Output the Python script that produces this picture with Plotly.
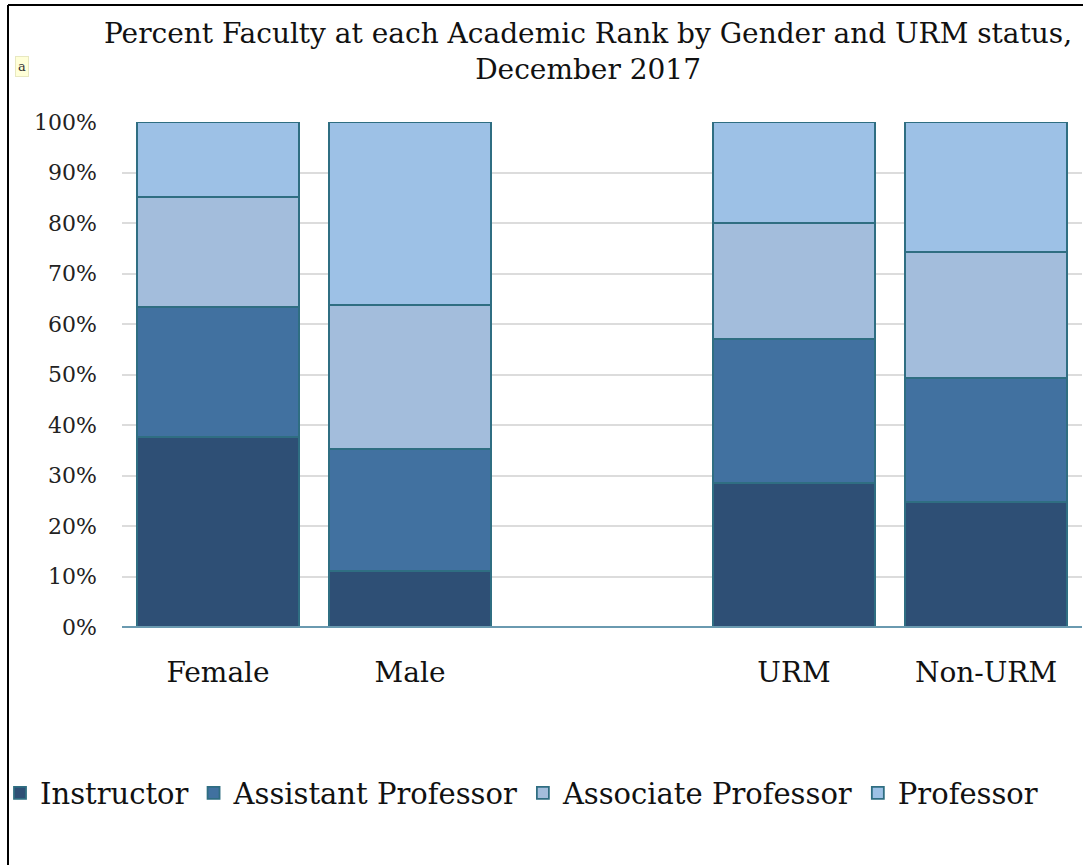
import plotly.graph_objects as go

categories = ["Female", "Male", "URM", "Non-URM"]
axis_order = ["Female", "Male", " ", "URM", "Non-URM"]
series_names = ["Instructor", "Assistant Professor", "Associate Professor", "Professor"]
instructor = [37.6, 11.1, 28.5, 24.8]
assistant = [25.8, 24.1, 28.5, 24.5]
associate = [21.7, 28.6, 23.0, 25.0]
professor = [14.9, 36.2, 20.0, 25.7]
y_ticks = [0, 10, 20, 30, 40, 50, 60, 70, 80, 90, 100]
y_ticktext = [f"{v}%" for v in y_ticks]
title_text = "Percent Faculty at each Academic Rank by Gender and URM status,<br>December 2017"

colors = ["#2E4F75", "#4171A0", "#A3BDDC", "#9DC1E6"]
outline = "#2F6E82"
FONT = "DejaVu Serif"

# plot area: x 122..1082, y 122..627
L, R, T, B = 122, 1, 122, 238
PW, PH = 1083 - L - R, 865 - T - B


def px(x):
    return (x - L) / PW


def py(y):
    return (865 - B - y) / PH


fig = go.Figure()
for name, vals, col in zip(series_names, [instructor, assistant, associate, professor], colors):
    fig.add_trace(go.Bar(
        x=categories, y=vals, name=name,
        marker=dict(color=col, line=dict(color=outline, width=1.8)),
    ))

fig.update_layout(
    width=1083, height=865,
    barmode="stack", bargap=0.16,
    paper_bgcolor="white", plot_bgcolor="white",
    margin=dict(l=L, r=R, t=T, b=B, autoexpand=False),
    font=dict(family=FONT, color="#111111"),
    xaxis=dict(
        type="category", categoryorder="array", categoryarray=axis_order,
        range=[-0.5, 4.5],
        showgrid=False, showline=False, zeroline=False,
        tickfont=dict(family=FONT, size=28, color="#111111"),
        ticks="", ticklabelstandoff=26,
    ),
    yaxis=dict(
        range=[0, 100], tickvals=y_ticks, ticktext=y_ticktext,
        showgrid=True, gridcolor="#DCDCDC", gridwidth=2,
        zeroline=False, showline=False,
        tickfont=dict(family=FONT, size=22, color="#222222"),
        ticks="", ticklabelstandoff=24,
    ),
    legend=dict(
        orientation="h", x=px(0), xanchor="left", xref="paper",
        y=py(793), yanchor="middle", yref="paper",
        font=dict(family=FONT, size=29, color="#111111"),
        traceorder="normal", itemwidth=30,
        bgcolor="rgba(0,0,0,0)",
    ),
    showlegend=True,
)

# title
fig.add_annotation(text=title_text, xref="paper", yref="paper",
                   x=px(588), y=py(51), xanchor="center", yanchor="middle",
                   showarrow=False, align="center",
                   font=dict(family=FONT, size=28, color="#111111"))

# axis baseline
fig.add_shape(type="line", xref="paper", yref="paper", x0=0, x1=1, y0=0, y1=0,
              line=dict(color="#6A9AB0", width=2), layer="above")
# frame lines (page border)
fig.add_shape(type="line", xref="paper", yref="paper",
              x0=px(8), x1=px(1083), y0=py(5), y1=py(5),
              line=dict(color="black", width=2))
fig.add_shape(type="line", xref="paper", yref="paper",
              x0=px(8), x1=px(8), y0=py(5), y1=py(866),
              line=dict(color="black", width=2))
# small comment tag
fig.add_annotation(text="a", xref="paper", yref="paper",
                   x=px(15), y=py(56),
                   showarrow=False, font=dict(family=FONT, size=13, color="#333"),
                   bgcolor="#FFFFD8", bordercolor="#E8E8C0", borderwidth=1, borderpad=2)

fig.write_html("out.html", config={"displayModeBar": False},
               post_script="document.body.style.margin='0';document.body.style.padding='0';document.body.style.overflow='hidden';")
